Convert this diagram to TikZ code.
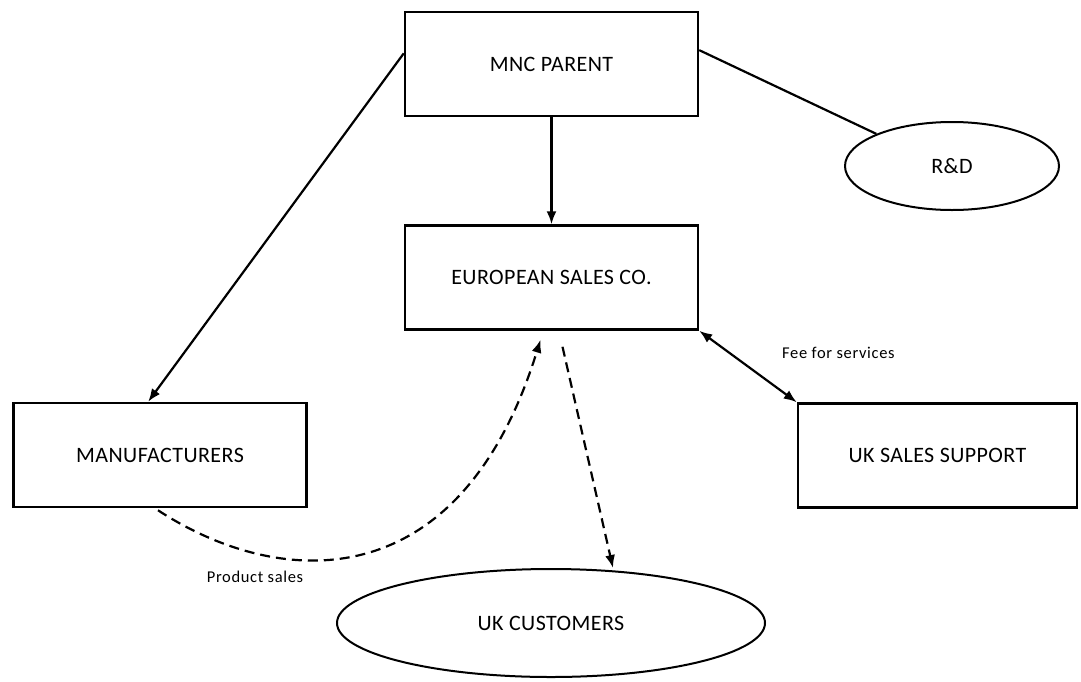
\documentclass[tikz,border=0pt]{standalone}
\usepackage{fontspec}
\setmainfont{Carlito}
\usetikzlibrary{arrows.meta,calc,shapes.geometric}
\begin{document}
\begin{tikzpicture}[x=1pt,y=-1pt,
  box/.style={draw,line width=2.5pt,rectangle,minimum width=293pt,minimum height=104pt,inner sep=0pt,font=\fontsize{22}{26}\selectfont\addfontfeature{LetterSpace=2}},
  oval/.style={draw,line width=2pt,ellipse,inner sep=0pt,font=\fontsize{22}{26}\selectfont\addfontfeature{LetterSpace=2}},
  conn/.style={line width=2.2pt,-{Latex[length=13pt,width=10pt]}},
  dconn/.style={conn,dash pattern=on 10pt off 6pt},
  lbl/.style={font=\fontsize{16.5}{19}\selectfont\addfontfeature{LetterSpace=4},inner sep=0pt}]
\useasboundingbox (0,0) rectangle (1081,681);
\node[box] (mnc) at (551.5,64) {MNC PARENT};
\node[box] (euro) at (551.5,277.5) {EUROPEAN SALES CO.};
\node[box] (man) at (160,455) {MANUFACTURERS};
\node[box,minimum width=279pt] (uks) at (937.5,455.5) {UK SALES SUPPORT};
\node[oval,minimum width=214pt,minimum height=88pt] (rd) at (952,166) {R\&D};
\node[oval,minimum width=428pt,minimum height=108pt] (ukc) at (551,623) {UK CUSTOMERS};
\node[lbl,anchor=west] (fee) at (782,353) {Fee for services};
\node[lbl] (ps) at (255,577) {Product sales};
\coordinate (t1) at ($(euro.south)+(-11,9)$);
\coordinate (s2) at ($(euro.south)+(11,16)$);
\draw[conn] ($(mnc.north west)!0.4!(mnc.south west)$) -- ($(man.north west)!0.46!(man.north east)$);
\draw[conn] (mnc.south) -- (euro.north);
\draw[line width=2.2pt] ($(mnc.north east)!0.37!(mnc.south east)$) -- (rd.157);
\draw[line width=2.2pt,{Latex[length=13pt,width=10pt]}-{Latex[length=13pt,width=10pt]}] (euro.south east) -- (uks.north west);
\draw[dconn] ($(man.south)+(-2,2)$) .. controls (280,590) and (460,600) .. (t1);
\draw[dconn] (s2) -- (ukc.north -| 613,0);
\end{tikzpicture}
\end{document}
